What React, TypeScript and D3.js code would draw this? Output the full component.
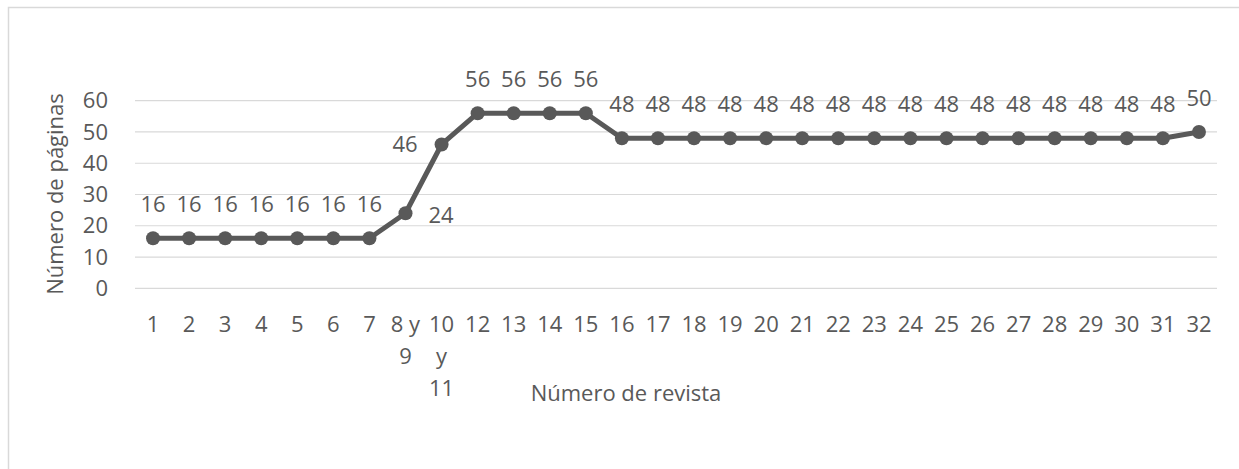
import React from "react";
import * as d3 from "d3";

const categories: string[] = [
  "1", "2", "3", "4", "5", "6", "7", "8 y 9", "10 y 11",
  "12", "13", "14", "15", "16", "17", "18", "19", "20", "21", "22", "23",
  "24", "25", "26", "27", "28", "29", "30", "31", "32",
];
const pages: number[] = [
  16, 16, 16, 16, 16, 16, 16, 24, 46,
  56, 56, 56, 56,
  48, 48, 48, 48, 48, 48, 48, 48, 48, 48, 48, 48, 48, 48, 48, 48,
  50,
];
const yTicks: number[] = [0, 10, 20, 30, 40, 50, 60];
const yTitle = "Número de páginas";
const xTitle = "Número de revista";
// label placement overrides (default: above)
const labelSide: Record<string, "right" | "left"> = { "8 y 9": "right", "10 y 11": "left" };

const W = 1239;
const H = 469;
const FONT = "'Open Sans', sans-serif";
const TEXT = "#595959";
const FS = 22;

function approxWidth(s: string): number {
  let w = 0;
  for (const c of s) {
    if (c === " ") w += FS * 0.26;
    else if (/[0-9]/.test(c)) w += FS * 0.572;
    else w += FS * 0.5;
  }
  return w;
}

function wrap(label: string, max: number): string[] {
  const words = label.split(" ");
  const lines: string[] = [];
  let cur = "";
  for (const w of words) {
    const t = cur ? cur + " " + w : w;
    if (cur && approxWidth(t) > max) {
      lines.push(cur);
      cur = w;
    } else cur = t;
  }
  if (cur) lines.push(cur);
  return lines;
}

export default function App() {
  const x = d3.scaleBand<string>().domain(categories).range([135, 1217]).padding(0);
  const y = d3.scaleLinear().domain([0, 60]).range([288.3, 100.7]);
  const cx = (c: string) => (x(c) as number) + x.bandwidth() / 2;
  const line = d3
    .line<number>()
    .x((_, i) => cx(categories[i]))
    .y((d) => y(d));

  return (
    <svg
      width={W}
      height={H}
      style={{ position: "absolute", left: 0, top: 0, background: "#fff" }}
      fontFamily={FONT}
    >
      <rect x={0} y={0} width={W} height={H} fill="#fff" />
      {/* chart border */}
      <rect x={8.5} y={7.5} width={W + 10} height={H + 10} fill="none" stroke="#d9d9d9" strokeWidth={1.5} />
      {/* gridlines */}
      {yTicks.map((t) => (
        <line key={t} x1={135} x2={1217} y1={y(t)} y2={y(t)} stroke="#d9d9d9" strokeWidth={1.2} />
      ))}
      {/* y tick labels */}
      {yTicks.map((t) => (
        <text key={t} x={108} y={y(t)} dy="0.35em" textAnchor="end" fontSize={FS} fill={TEXT}>
          {t}
        </text>
      ))}
      {/* y title */}
      <text
        transform={`translate(63,194) rotate(-90)`}
        textAnchor="middle"
        fontSize={FS}
        fill={TEXT}
      >
        {yTitle}
      </text>
      {/* x tick labels */}
      {categories.map((c) => (
        <text key={c} x={cx(c)} y={324} textAnchor="middle" fontSize={FS} fill={TEXT}>
          {wrap(c, x.bandwidth()).map((l, i) => (
            <tspan key={i} x={cx(c)} y={324 + i * 32} dy="0.35em">
              {l}
            </tspan>
          ))}
        </text>
      ))}
      {/* x title */}
      <text x={626} y={393} dy="0.35em" textAnchor="middle" fontSize={FS} fill={TEXT}>
        {xTitle}
      </text>
      {/* line */}
      <path d={line(pages) || ""} fill="none" stroke="#595959" strokeWidth={5} strokeLinejoin="round" />
      {pages.map((v, i) => (
        <circle key={i} cx={cx(categories[i])} cy={y(v)} r={7} fill="#595959" />
      ))}
      {/* data labels */}
      {pages.map((v, i) => {
        const c = categories[i];
        const side = labelSide[c];
        if (side === "right")
          return (
            <text key={i} x={cx(c) + 23} y={y(v) + 2} dy="0.35em" textAnchor="start" fontSize={FS} fill={TEXT}>
              {v}
            </text>
          );
        if (side === "left")
          return (
            <text key={i} x={cx(c) - 24} y={y(v)} dy="0.35em" textAnchor="end" fontSize={FS} fill={TEXT}>
              {v}
            </text>
          );
        return (
          <text key={i} x={cx(c)} y={y(v) - 34} dy="0.35em" textAnchor="middle" fontSize={FS} fill={TEXT}>
            {v}
          </text>
        );
      })}
    </svg>
  );
}
